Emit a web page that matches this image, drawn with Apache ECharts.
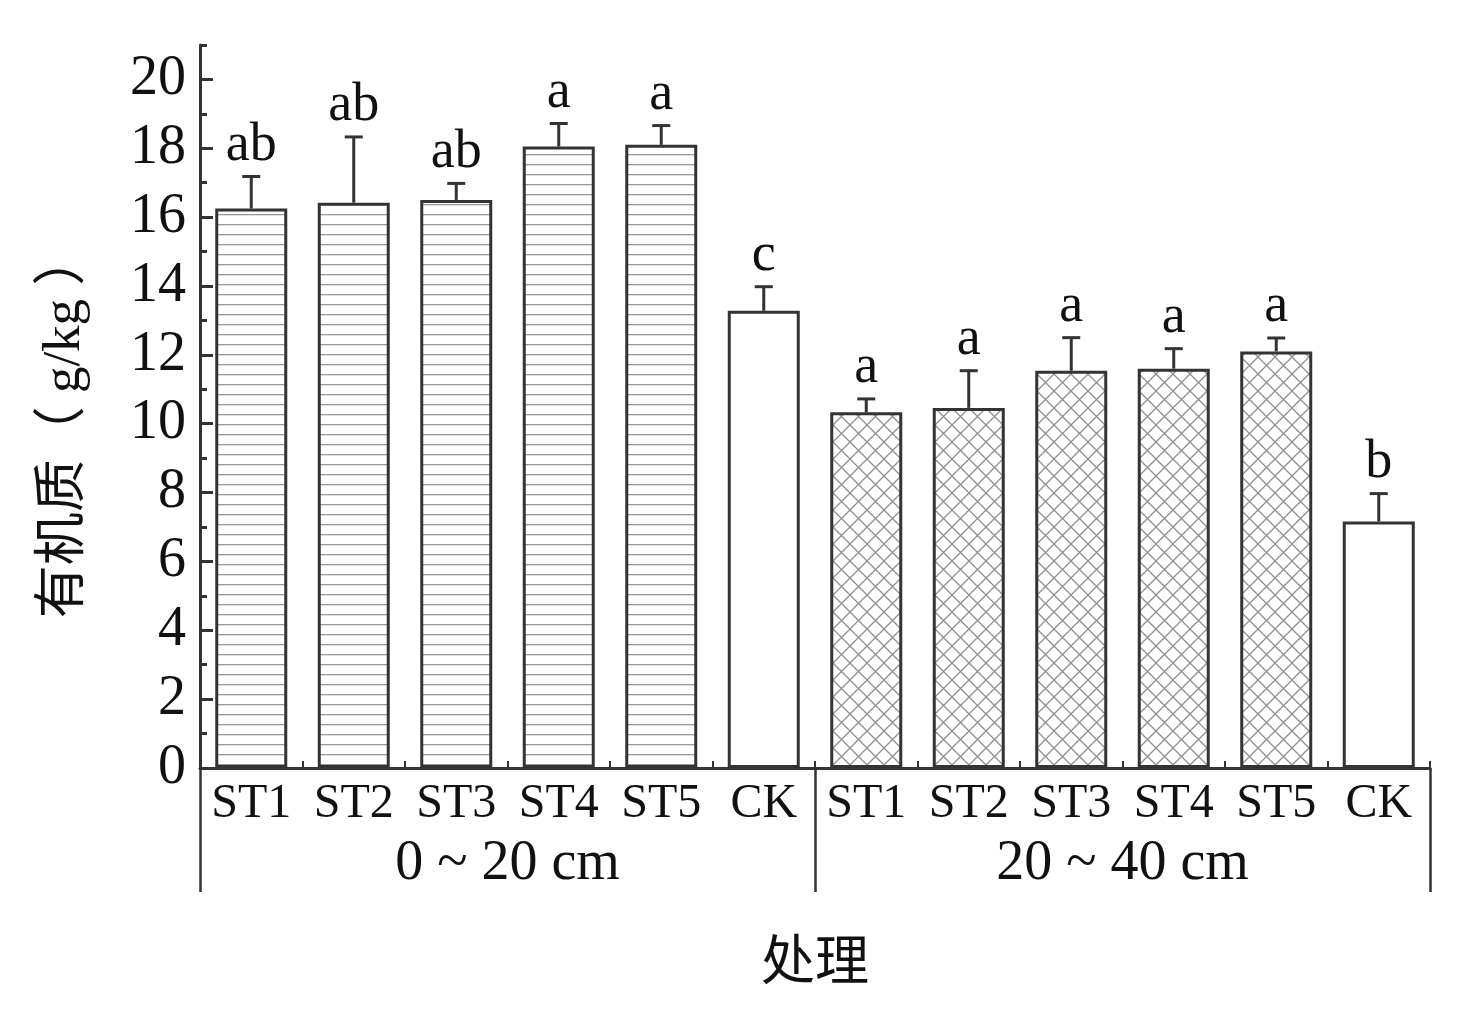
<!DOCTYPE html>
<html>
<head>
<meta charset="utf-8">
<script src="https://cdn.jsdelivr.net/npm/echarts@6/dist/echarts.min.js"></script>
<style>
  html, body { margin: 0; padding: 0; background: #fff; }
  #main { width: 1471px; height: 1017px; }
</style>
</head>
<body>
<div id="main"></div>
<script>
const categories = ['ST1', 'ST2', 'ST3', 'ST4', 'ST5', 'CK', 'ST1', 'ST2', 'ST3', 'ST4', 'ST5', 'CK'];
const depthGroups = ['0 ~ 20 cm', '20 ~ 40 cm'];
const means = [16.25, 16.42, 16.5, 18.05, 18.1, 13.28, 10.33, 10.46, 11.54, 11.6, 12.1, 7.16];
const errors = [0.93, 1.91, 0.48, 0.67, 0.56, 0.70, 0.39, 1.08, 0.96, 0.58, 0.39, 0.81];
const letters = ['ab', 'ab', 'ab', 'a', 'a', 'c', 'a', 'a', 'a', 'a', 'a', 'b'];
const fills = ['line', 'line', 'line', 'line', 'line', 'none', 'hatch', 'hatch', 'hatch', 'hatch', 'hatch', 'none'];
const majorTicks = [0, 2, 4, 6, 8, 10, 12, 14, 16, 18, 20];
const minorTicks = [1, 3, 5, 7, 9, 11, 13, 15, 17, 19, 21];

const FONT = "'Liberation Serif', 'Times New Roman', 'Noto Sans CJK SC', serif";
const AXIS = '#333';

// fill patterns
function linePattern() {
    const c = document.createElement('canvas');
    c.width = 10; c.height = 10;
    const ctx = c.getContext('2d');
    ctx.fillStyle = '#fff';
    ctx.fillRect(0, 0, 10, 10);
    ctx.fillStyle = '#999';
    ctx.fillRect(0, 4, 10, 1.3);
    return c;
}
function hatchPattern() {
    const s = 17;
    const c = document.createElement('canvas');
    c.width = s; c.height = s;
    const ctx = c.getContext('2d');
    ctx.fillStyle = '#fff';
    ctx.fillRect(0, 0, s, s);
    ctx.strokeStyle = '#8f8f8f';
    ctx.lineWidth = 1.3;
    ctx.beginPath();
    ctx.moveTo(-2, -2); ctx.lineTo(s + 2, s + 2);
    ctx.moveTo(s + 2, -2); ctx.lineTo(-2, s + 2);
    ctx.stroke();
    return c;
}
const patterns = {
    line: { image: linePattern(), repeat: 'repeat' },
    hatch: { image: hatchPattern(), repeat: 'repeat' },
    none: '#fff'
};

const barData = means.map((v, i) => ({
    value: v,
    itemStyle: {
        color: patterns[fills[i]],
        borderColor: AXIS,
        borderWidth: 3
    }
}));

const errData = means.map((v, i) => [i, v, v + errors[i]]);

const chart = echarts.init(document.getElementById('main'), null, { devicePixelRatio: 1 });
chart.setOption({
    animation: false,
    backgroundColor: '#fff',
    grid: {
        left: 200,
        right: 41,
        top: 45,
        bottom: 249,
        containLabel: false
    },
    xAxis: [
        {
            type: 'category',
            data: categories,
            boundaryGap: true,
            axisLine: { lineStyle: { color: AXIS, width: 3 } },
            axisTick: {
                show: true,
                inside: true,
                length: 7,
                interval: 0,
                lineStyle: { color: AXIS, width: 2 }
            },
            axisLabel: {
                interval: 0,
                margin: 12,
                color: '#111',
                fontFamily: FONT,
                fontSize: 48
            },
            splitLine: { show: false }
        },
        {
            type: 'category',
            data: depthGroups,
            position: 'bottom',
            boundaryGap: true,
            axisLine: { show: true, lineStyle: { color: 'rgba(0,0,0,0)', width: 1 } },
            axisTick: {
                show: true,
                inside: false,
                length: 124,
                interval: 0,
                lineStyle: { color: AXIS, width: 2.5 }
            },
            axisLabel: {
                interval: 0,
                margin: 68,
                color: '#111',
                fontFamily: FONT,
                fontSize: 56
            },
            name: '处理',
            nameLocation: 'middle',
            nameGap: 171,
            nameTextStyle: { color: '#111', fontFamily: FONT, fontSize: 54 },
            splitLine: { show: false }
        }
    ],
    yAxis: [
        {
            type: 'value',
            min: 0,
            max: 21,
            axisLine: { show: true, lineStyle: { color: AXIS, width: 3 } },
            axisTick: {
                show: true,
                inside: true,
                length: 13,
                customValues: majorTicks,
                lineStyle: { color: AXIS, width: 3 }
            },
            axisLabel: {
                customValues: majorTicks,
                margin: 14,
                color: '#111',
                fontFamily: FONT,
                fontSize: 56
            },
            splitLine: { show: false },
            name: '有机质（ g/kg ）',
            nameLocation: 'middle',
            nameRotate: 90,
            nameGap: 108,
            nameTextStyle: {
                color: '#111',
                fontFamily: FONT,
                fontSize: 53,
                padding: [0, 38, 0, 0]
            }
        },
        {
            type: 'value',
            min: 0,
            max: 21,
            position: 'left',
            axisLine: { show: false },
            axisTick: {
                show: true,
                inside: true,
                length: 7,
                customValues: minorTicks,
                lineStyle: { color: AXIS, width: 3 }
            },
            axisLabel: { show: false },
            splitLine: { show: false }
        }
    ],
    series: [
        {
            type: 'bar',
            xAxisIndex: 0,
            yAxisIndex: 0,
            barWidth: 72,
            data: barData,
            z: 2
        },
        {
            type: 'custom',
            xAxisIndex: 0,
            yAxisIndex: 0,
            data: errData,
            z: 3,
            renderItem: function (params, api) {
                const i = api.value(0);
                const base = api.coord([i, api.value(1)]);
                const top = api.coord([i, api.value(2)]);
                const half = 9;
                return {
                    type: 'group',
                    children: [
                        {
                            type: 'line',
                            shape: { x1: base[0], y1: base[1], x2: top[0], y2: top[1] },
                            style: { stroke: AXIS, lineWidth: 3 }
                        },
                        {
                            type: 'line',
                            shape: { x1: top[0] - half, y1: top[1], x2: top[0] + half, y2: top[1] },
                            style: { stroke: AXIS, lineWidth: 3 }
                        },
                        {
                            type: 'text',
                            x: top[0],
                            y: top[1] - 4,
                            style: {
                                text: letters[params.dataIndex],
                                fill: '#111',
                                font: '54px ' + FONT,
                                textAlign: 'center',
                                textVerticalAlign: 'bottom'
                            }
                        }
                    ]
                };
            }
        }
    ]
});
</script>
</body>
</html>
